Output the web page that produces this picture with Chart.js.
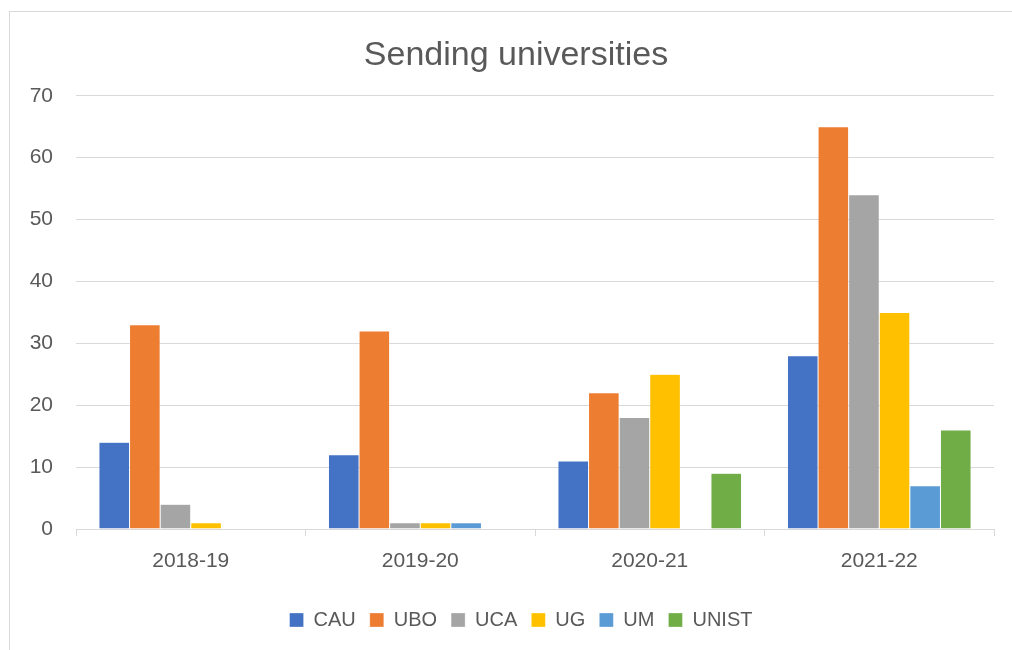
<!DOCTYPE html>
<html>
<head>
<meta charset="utf-8">
<script src="https://cdn.jsdelivr.net/npm/chart.js@4/dist/chart.umd.min.js"></script>
<style>
  html, body { margin: 0; padding: 0; background: #fff; }
  #wrap { position: relative; width: 1012px; height: 650px; overflow: hidden; }
  #frame { position: absolute; left: 9px; top: 11px; width: 1100px; height: 700px; border: 1px solid #d9d9d9; box-sizing: border-box; }
  canvas { position: absolute; left: 0; top: 0; }
</style>
</head>
<body>
<div id="wrap">
  <div id="frame"></div>
  <canvas id="c" width="1012" height="650"></canvas>
</div>
<script>
const categories = ["2018-19", "2019-20", "2020-21", "2021-22"];
const seriesNames = ["CAU", "UBO", "UCA", "UG", "UM", "UNIST"];
const CAU   = [14, 12, 11, 28];
const UBO   = [33, 32, 22, 65];
const UCA   = [4, 1, 18, 54];
const UG    = [1, 1, 25, 35];
const UM    = [0, 1, 0, 7];
const UNIST = [0, 0, 9, 16];
const yTicks = [0, 10, 20, 30, 40, 50, 60, 70];

const colors = ["#4472C4", "#ED7D31", "#A5A5A5", "#FFC000", "#5B9BD5", "#70AD47"];
const values = [CAU, UBO, UCA, UG, UM, UNIST];
const FONT = "'Liberation Sans', Arial, sans-serif";
const TXT = "#595959";

const shiftPlugin = {
  id: "shiftBlocks",
  afterLayout(chart) {
    if (chart.titleBlock) { chart.titleBlock.left += 19; chart.titleBlock.right += 19; }
    if (chart.legend) { chart.legend.left += 24; chart.legend.right += 24; }
  }
};

new Chart(document.getElementById("c"), {
  type: "bar",
  plugins: [shiftPlugin],
  data: {
    labels: categories,
    datasets: seriesNames.map((n, i) => ({
      label: n,
      data: values[i],
      backgroundColor: colors[i],
      borderColor: "rgba(255,255,255,0.6)",
      borderWidth: 0.5,
      categoryPercentage: 0.8,
      barPercentage: 1.0
    }))
  },
  options: {
    responsive: false,
    animation: false,
    devicePixelRatio: 1,
    layout: { padding: { left: 0, right: 18, top: 11, bottom: 10 } },
    plugins: {
      title: {
        display: true,
        text: "Sending universities",
        color: TXT,
        font: { family: FONT, size: 34, weight: "normal" },
        padding: { top: 24, bottom: 20 }
      },
      legend: {
        position: "bottom",
        labels: {
          color: TXT,
          font: { family: FONT, size: 20 },
          boxWidth: 14,
          boxHeight: 14,
          padding: 14
        }
      },
      tooltip: { enabled: false }
    },
    scales: {
      y: {
        min: 0, max: 70,
        afterFit: (s) => { s.width = 76; },
        afterBuildTicks: (s) => { s.ticks = yTicks.map(v => ({ value: v })); },
        ticks: { color: TXT, font: { family: FONT, size: 21 }, padding: 23 },
        grid: { color: "#d9d9d9", lineWidth: 1, drawTicks: false },
        border: { display: false }
      },
      x: {
        afterFit: (s) => { s.height = 67; },
        ticks: { color: TXT, font: { family: FONT, size: 21 }, padding: 13 },
        grid: { display: true, drawOnChartArea: false, offset: true, color: "#d9d9d9", tickLength: 7 },
        border: { display: true, color: "#d9d9d9", width: 1 }
      }
    }
  }
});
</script>
</body>
</html>
